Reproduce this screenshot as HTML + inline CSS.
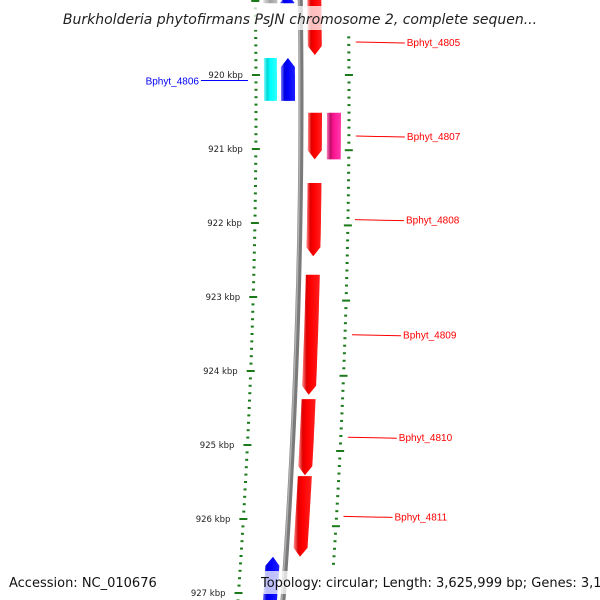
<!DOCTYPE html>
<html><head><meta charset="utf-8"><style>
html,body{margin:0;padding:0;background:#fff;}
svg{display:block;font-family:"DejaVu Sans","Liberation Sans",sans-serif;}
</style></head><body>
<svg id="map" width="600" height="600" viewBox="0 0 600 600" xmlns="http://www.w3.org/2000/svg">
<defs>
<linearGradient id="gr" x1="0" x2="1" y1="0" y2="0"><stop offset="0" stop-color="#ff9090"/><stop offset="0.25" stop-color="#e00000"/><stop offset="0.5" stop-color="#ff0000"/><stop offset="1" stop-color="#ff2020"/></linearGradient>
<linearGradient id="gb" x1="0" x2="1" y1="0" y2="0"><stop offset="0" stop-color="#8080ff"/><stop offset="0.25" stop-color="#0000e0"/><stop offset="0.5" stop-color="#0000ff"/><stop offset="1" stop-color="#2020ff"/></linearGradient>
<linearGradient id="gc" x1="0" x2="1" y1="0" y2="0"><stop offset="0" stop-color="#80ffff"/><stop offset="0.25" stop-color="#00d8d8"/><stop offset="0.5" stop-color="#00ffff"/><stop offset="1" stop-color="#30ffff"/></linearGradient>
<linearGradient id="gp" x1="0" x2="1" y1="0" y2="0"><stop offset="0" stop-color="#ff80c0"/><stop offset="0.25" stop-color="#c0106a"/><stop offset="0.5" stop-color="#ff1493"/><stop offset="1" stop-color="#ff3ca8"/></linearGradient>
<linearGradient id="gg" x1="0" x2="1" y1="0" y2="0"><stop offset="0" stop-color="#e0e0e0"/><stop offset="0.5" stop-color="#a0a0a0"/><stop offset="1" stop-color="#c0c0c0"/></linearGradient>
</defs>
<g id="layer"></g>
<rect x="60" y="6" width="480" height="24" fill="#fff" opacity="0.75"/>
<text x="300" y="24" text-anchor="middle" font-size="14" font-style="italic" fill="#222">Burkholderia phytofirmans PsJN chromosome 2, complete sequen...</text>
<rect x="257" y="571" width="340" height="23" fill="#fff" opacity="0.75"/>
<text x="9" y="587" font-size="13" fill="#111">Accession: NC_010676</text>
<text x="261" y="587" font-size="13" fill="#111">Topology: circular; Length: 3,625,999 bp; Genes: 3,169</text>
</svg>
<script>
// data (kbp)
var geneNames = ["Bphyt_4805","Bphyt_4806","Bphyt_4807","Bphyt_4808","Bphyt_4809","Bphyt_4810","Bphyt_4811"];
var geneStarts = [918.95, 919.77, 920.51, 921.46, 922.70, 924.38, 925.42];
var geneEnds   = [919.73, 920.35, 921.14, 922.45, 924.32, 925.41, 926.51];
var geneStrand = [1, -1, 1, 1, 1, 1, 1];
var extraStarts = [919.77, 920.51, 926.51, 918.90, 918.90];
var extraEnds   = [920.35, 921.14, 927.20, 919.03, 919.03];
var extraKind   = ["cyan","pink","blue","blue","grey"];
var tickLabels = ["920 kbp","921 kbp","922 kbp","923 kbp","924 kbp","925 kbp","926 kbp","927 kbp"];
var tickValues = [920,921,922,923,924,925,926,927];

var NS="http://www.w3.org/2000/svg", L=document.getElementById('layer');
function Y(k){return 75+(k-920)*74;}
function Yo(k){return 75+(k-920)*75.2;}
function C(y){return 301-7.2e-5*(y-100)*(y-100);}
function el(t,a){var e=document.createElementNS(NS,t);for(var k in a)e.setAttribute(k,a[k]);L.appendChild(e);return e;}

// backbone
var d="";for(var y=-5;y<=605;y+=5){d+=(y<0?"M":"L")+C(y).toFixed(2)+","+y;}
var bb=el('path',{d:d,fill:'none',stroke:'#7a7a7a','stroke-width':5});


el('path',{d:d,fill:'none',stroke:'#b0b0b0','stroke-width':1.5,transform:'translate(-1.3,0)'});

// rulers
for(var i=0;i<=90;i++){
  var k=918.9+i*0.1, kk=Math.round(k*10)/10, major=Math.abs(kk-Math.round(kk))<1e-6;
  var yi=Y(kk); if(yi>-5&&yi<605){
    var x=C(yi)-45;
    var t=el('rect',{x:major?x-4:x-1.5,y:yi-1,width:major?8:3,height:2,fill:'#1a7a1a'});
    
    
  }
  var yo=Yo(kk); if(yo>30&&yo<571){
    var xo=C(yo)+48;
    var t2=el('rect',{x:major?xo-4:xo-1.5,y:yo-1,width:major?8:3,height:2,fill:'#1a7a1a'});
    
    
  }
}
for(var j=0;j<tickValues.length;j++){
  var ty=Y(tickValues[j]);
  var tl=el('text',{x:C(ty)-58,y:ty+3,'font-size':8.5,'text-anchor':'end',fill:'#222'});
  tl.textContent=tickLabels[j];
  
  
}

function gene(s,e,d0,d1,strand,fill,arrow,name){
  var y0=Y(s),y1=Y(e),pts=[],n=12,ah=arrow?9:0;
  if(strand>0){
    for(var i=0;i<=n;i++){var y=y0+(y1-ah-y0)*i/n;pts.push([C(y)+d0,y]);}
    if(arrow)pts.push([C(y1)+(d0+d1)/2,y1]);
    for(var i=n;i>=0;i--){var y=y0+(y1-ah-y0)*i/n;pts.push([C(y)+d1,y]);}
  } else {
    for(var i=0;i<=n;i++){var y=y0+ah+(y1-y0-ah)*i/n;pts.push([C(y)+d0,y]);}
    for(var i=n;i>=0;i--){var y=y0+ah+(y1-y0-ah)*i/n;pts.push([C(y)+d1,y]);}
    if(arrow)pts.push([C(y0)+(d0+d1)/2,y0]);
  }
  var p=el('polygon',{points:pts.map(function(q){return q[0].toFixed(1)+","+q[1].toFixed(1)}).join(" "),fill:fill});
  
  
}
var fills={cyan:'url(#gc)',pink:'url(#gp)',blue:'url(#gb)',grey:'url(#gg)'};
for(var i=0;i<extraKind.length;i++){
  var kd=extraKind[i];
  var d0=kd=='pink'?26:(kd=='cyan'?-37:(kd=='grey'?-37:-20)), d1=d0+(kd=='cyan'?13:14);
  if(kd=='blue'&&i==2){d0=-20;d1=-6;}
  gene(extraStarts[i],extraEnds[i],d0,d1,kd=='blue'?-1:1,fills[kd],kd=='blue',kd+'-gene');
}
for(var i=0;i<geneNames.length;i++){
  if(geneStrand[i]>0) gene(geneStarts[i],geneEnds[i],7,21,1,'url(#gr)',true,'gene-'+geneNames[i].toLowerCase().replace('_','-'));
  else gene(geneStarts[i],geneEnds[i],-20,-6,-1,'url(#gb)',true,'gene-'+geneNames[i].toLowerCase().replace('_','-'));
}
// labels
for(var i=0;i<geneNames.length;i++){
  var ym=(Y(geneStarts[i])+Y(geneEnds[i]))/2;
  if(i==0) ym=42;
  var col=geneStrand[i]>0?'#ff0000':'#0000ff';
  if(geneStrand[i]>0){
    var x0=C(ym)+55;
    var ln=el('line',{x1:x0,y1:ym,x2:x0+49,y2:ym+1,stroke:col,'stroke-width':1});
    
    
    var tx=el('text',{x:x0+51,y:ym+4,'font-size':10,fill:col,'font-family':'Liberation Sans Narrow, Liberation Sans, sans-serif'});
    tx.textContent=geneNames[i];
    
    
  } else {
    var x1=C(ym)-53;
    var ln2=el('line',{x1:x1-47,y1:ym+1,x2:x1,y2:ym+1,stroke:col,'stroke-width':1});
    
    
    var tx2=el('text',{x:x1-49,y:ym+5,'font-size':10,fill:col,'text-anchor':'end','font-family':'Liberation Sans Narrow, Liberation Sans, sans-serif'});
    tx2.textContent=geneNames[i];
    
    
  }
}
</script>
</body></html>
